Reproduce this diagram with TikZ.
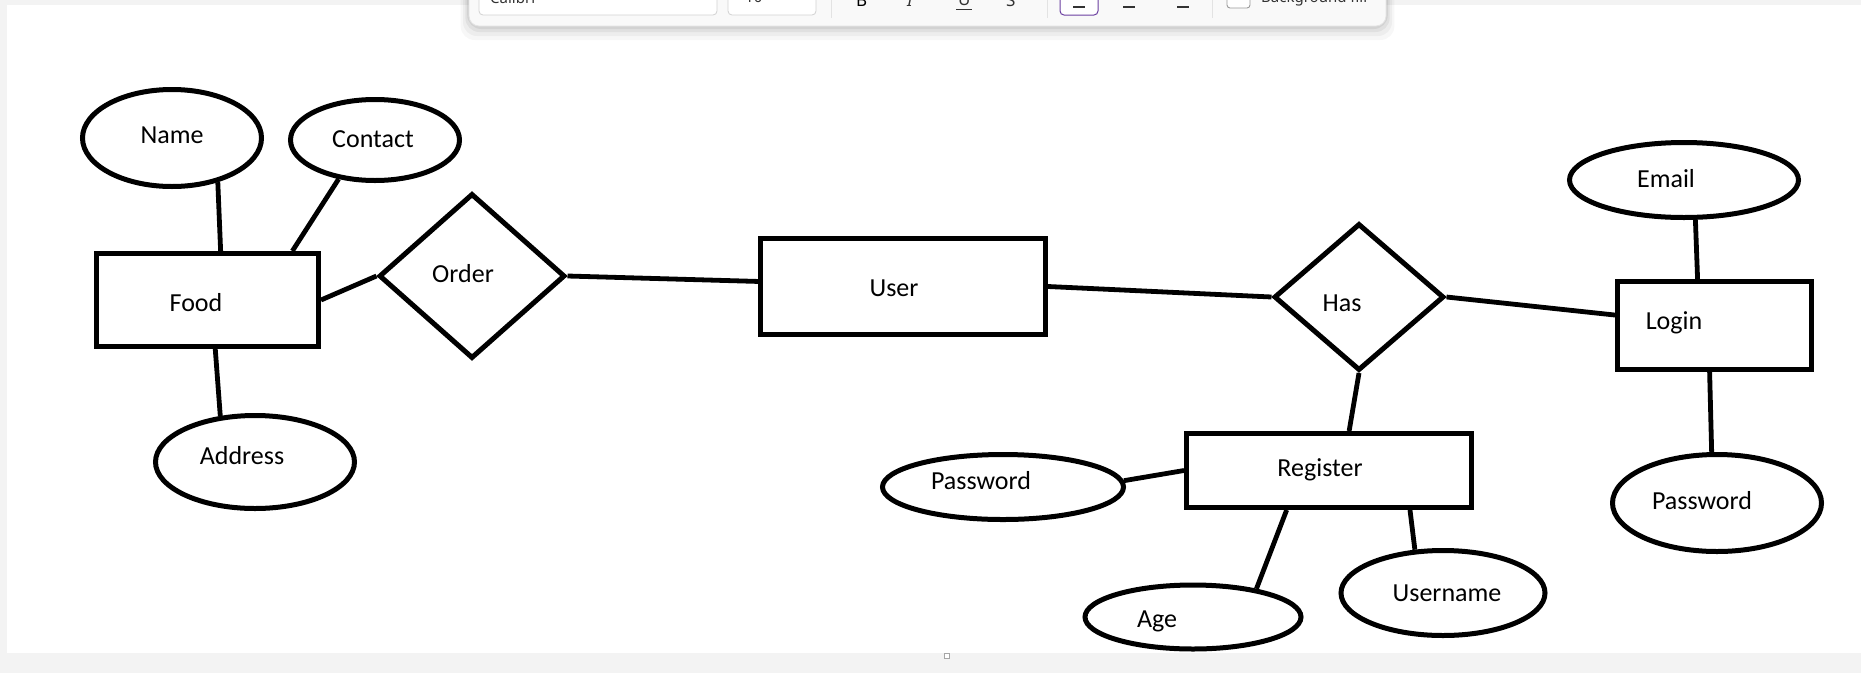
\documentclass[tikz,border=0pt]{standalone}
\usepackage{fontspec}
\setmainfont{Carlito}
\newfontfamily\uifont{Noto Sans}
\usetikzlibrary{shapes.geometric}

\definecolor{canvas}{HTML}{F3F3F3}
\definecolor{barfill}{HTML}{F9F9F9}
\definecolor{barline}{HTML}{E3E3E3}
\definecolor{boxline}{HTML}{D2D2D2}
\definecolor{uitext}{HTML}{333333}
\definecolor{selpurple}{HTML}{6B3FA0}

\tikzset{
  outline/.style={draw=black, line width=5pt, inner sep=0pt, fill=white},
  entity/.style={outline, rectangle},
  attr/.style={outline, ellipse},
  rel/.style={outline, diamond},
  link/.style={draw=black, line width=4.8pt},
  lbl/.style={font=\fontsize{26}{30}\selectfont, text=black},
  uibox/.style={draw=boxline, line width=0.8pt, fill=white, rounded corners=4pt},
  uisep/.style={draw=barline, line width=1pt},
  uitxt/.style={font=\uifont\fontsize{15}{18}\selectfont, text=uitext, inner sep=0pt, anchor=base west},
}

\begin{document}
\begin{tikzpicture}[x=1pt, y=-1pt]
  \useasboundingbox (0,0) rectangle (1861,673);
  \clip (0,0) rectangle (1861,673);

  % canvas and white page
  \fill[canvas] (0,0) rectangle (1861,673);
  \fill[white] (7,5) rectangle (1861,653);
  \draw[draw=gray!70, line width=0.7pt, fill=white] (944,653) rectangle (949,658);

  % floating formatting toolbar
  \foreach \s/\o in {14/0.03, 10/0.04, 6/0.05, 3/0.06}
    \fill[black, opacity=\o, rounded corners=14pt]
      (469-\s*0.6,-20) rectangle (1386+\s*0.6,26+\s);
  \draw[draw=barline, line width=0.8pt, fill=barfill, rounded corners=10pt]
    (469,-20) rectangle (1386,26);
  \node[uibox, minimum width=238pt, minimum height=30pt] (fontbox) at (598,0) {};
  \node[uitxt] (fontname) at (490,3) {Calibri};
  \node[uibox, minimum width=88pt, minimum height=30pt] (sizebox) at (772,0) {};
  \node[uitxt] (fontsize) at (745,2) {10};
  \draw[uisep] (831,-5) -- (831,18);
  \node[uitxt, font=\uifont\bfseries\fontsize{17}{20}\selectfont, text=black] (bold) at (856,6) {B};
  \node[uitxt, font=\uifont\itshape\fontsize{17}{20}\selectfont] (ital) at (907,6) {I};
  \node[uitxt, font=\uifont\fontsize{17}{20}\selectfont] (under) at (958,5) {U};
  \draw[uitext, line width=1pt] (956,9) -- (972,9);
  \node[uitxt, font=\uifont\fontsize{17}{20}\selectfont] (strike) at (1006,6) {S};
  \draw[uisep] (1047,-5) -- (1047,18);
  \draw[draw=selpurple, line width=1pt, fill=white, rounded corners=4pt]
    (1060,-12) rectangle (1098,15);
  \foreach \cx in {1079,1129,1183}
    \draw[uitext, line width=1.2pt] (\cx-6,7) -- (\cx+6,7);
  \draw[uisep] (1212,-5) -- (1212,18);
  \draw[draw=gray!80, line width=0.9pt, fill=white, rounded corners=3pt]
    (1227,-10) rectangle (1250,8);
  \node[uitxt] (bgfill) at (1261,2) {Background fill};

  % entities
  \node[entity, minimum width=222pt, minimum height=93pt,
        label={[lbl, xshift=-11.5pt, yshift=-3pt]center:Food}] (food) at (207.5,300) {};
  \node[entity, minimum width=285pt, minimum height=96pt,
        label={[lbl, xshift=-9pt, yshift=-1.5pt]center:User}] (user) at (903,286.5) {};
  \node[entity, minimum width=194pt, minimum height=88pt,
        label={[lbl, xshift=-40.5pt, yshift=2.5pt]center:Login}] (login) at (1714.5,325.5) {};
  \node[entity, minimum width=285pt, minimum height=74pt,
        label={[lbl, xshift=-9pt, yshift=0.5pt]center:Register}] (register) at (1329,470.5) {};

  % relationships
  \node[rel, minimum width=186pt, minimum height=165pt,
        label={[lbl, xshift=-9pt, yshift=2pt]center:Order}] (order) at (472,276) {};
  \node[rel, minimum width=170pt, minimum height=147pt,
        label={[lbl, xshift=-17pt, yshift=-6pt]center:Has}] (has) at (1359,297) {};

  % attributes
  \node[attr, minimum width=179pt, minimum height=97pt,
        label={[lbl, yshift=3pt]center:Name}] (name) at (172,138) {};
  \node[attr, minimum width=169pt, minimum height=81pt,
        label={[lbl, xshift=-2pt, yshift=1pt]center:Contact}] (contact) at (375,140) {};
  \node[attr, minimum width=199pt, minimum height=93pt,
        label={[lbl, xshift=-13pt, yshift=6pt]center:Address}] (address) at (255,462) {};
  \node[attr, minimum width=229pt, minimum height=75pt,
        label={[lbl, xshift=-18pt, yshift=1pt]center:Email}] (email) at (1684,180) {};
  \node[attr, minimum width=209pt, minimum height=97pt,
        label={[lbl, xshift=-15pt, yshift=2pt]center:Password}] (lpass) at (1717,503) {};
  \node[attr, minimum width=241pt, minimum height=65pt,
        label={[lbl, xshift=-22pt, yshift=6pt]center:Password}] (rpass) at (1003,487) {};
  \node[attr, minimum width=216pt, minimum height=64pt,
        label={[lbl, xshift=-36pt, yshift=-4pt]center:Age}] (age) at (1193,617) {};
  \node[attr, minimum width=204pt, minimum height=85pt,
        label={[lbl, xshift=4pt]center:Username}] (uname) at (1443,593) {};

  % connectors
  \draw[link] (name.-44) -- (food.75);
  \draw[link] (contact.-133) -- (food.30);
  \draw[link] (food.east) -- (order.west);
  \draw[link] (food.-81) -- (address.127);
  \draw[link] (order.east) -- (user.178);
  \draw[link] (user.east) -- (has.west);
  \draw[link] (has.east) -- (login.174);
  \draw[link] (email.-74) -- (login.110);
  \draw[link] (login.-96) -- (lpass.96);
  \draw[link] (has.south) -- (register.63);
  \draw[link] (rpass.3) -- (register.west);
  \draw[link] (register.-137) -- (age.24);
  \draw[link] (register.-26) -- (uname.123);
\end{tikzpicture}
\end{document}
